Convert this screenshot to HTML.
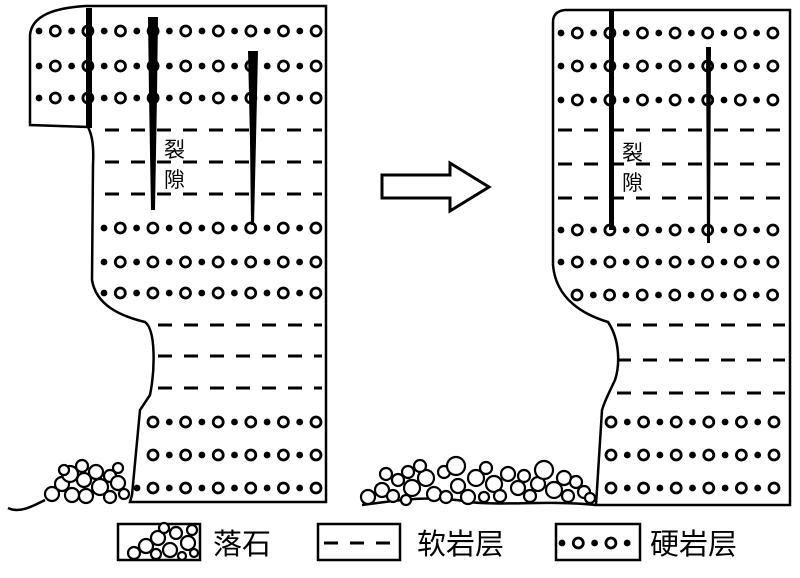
<!DOCTYPE html>
<html><head><meta charset="utf-8"><style>
html,body{margin:0;padding:0;background:#fff;width:800px;height:578px;overflow:hidden}
text{font-family:"Liberation Sans","Noto Sans CJK SC",sans-serif}
</style></head><body>
<svg id="s" width="800" height="578" viewBox="0 0 800 578" xmlns="http://www.w3.org/2000/svg">
<g fill="none" stroke="#000" stroke-width="2.5">
<path d="M326,6 L85,6 C55,8 32,15 30,35 L30,125 L88,127 C92,135 94,145 93,165 L92,280 C96,305 120,316 145,322 C156,330 155,370 150,395 L140,410 L132,495 L130,502 L326,502 Z"/>
<path d="M8,508 C20,514 35,505 45,500"/>
<path d="M790,10 L565,10 C556,11 553,16 553,22 L553,265 C556,300 585,315 608,322 C620,340 620,365 615,380 C608,395 605,400 602,410 L596,505 L790,505 Z"/>
<path d="M362,505 C400,500 430,495 470,502 C500,506 550,500 596,505"/>
<path d="M382,175 L450,175 L450,163 L489,187 L450,211 L450,198 L382,198 Z" stroke-width="3"/>
<rect x="118" y="524" width="82" height="36"/>
<rect x="318" y="524" width="82" height="36"/>
<rect x="556" y="524" width="84" height="36"/>
</g>
<g id="pat"></g>
<g fill="#000" font-size="21">
<text x="164" y="157">裂</text><text x="164" y="187">隙</text>
<text x="622" y="160">裂</text><text x="622" y="190">隙</text>
</g>
<g fill="#000" font-size="29">
<text x="213" y="554">落石</text>
<text x="417" y="554">软岩层</text>
<text x="650" y="554">硬岩层</text>
</g>
<g fill="#000">
<rect x="86" y="8" width="6" height="120"/>
<path d="M148,17 L158,17 L157,95 L155,210 L151,210 L149,95 Z"/>
<path d="M248,51 L258,51 L256,140 L254,225 L251,225 L250,140 Z"/>
<rect x="609" y="10" width="5" height="220"/>
<path d="M706,47 L711,47 L710,243 L707,243 Z"/>
</g>
</svg>
<script>
var g=document.getElementById('pat'),ns='http://www.w3.org/2000/svg';
function el(t,a){var e=document.createElementNS(ns,t);for(var k in a)e.setAttribute(k,a[k]);g.appendChild(e);}
function hard(x0,x1,y,startDot){var i=0;for(var x=x0;x<=x1;x+=16.3,i++){if((i%2==0)==startDot)el('circle',{cx:x,cy:y,r:3.4,fill:'#000'});else el('circle',{cx:x,cy:y,r:5,fill:'#fff',stroke:'#000','stroke-width':2.8});}}
function soft(x0,x1,y){for(var x=x0;x<x1;x+=26)el('line',{x1:x,y1:y,x2:Math.min(x+14,x1),y2:y,stroke:'#000','stroke-width':3});}
[31,66,98].forEach(function(y){hard(39,322,y,true)});
[130,162,194].forEach(function(y){soft(105,322,y)});
[228,262,293].forEach(function(y){hard(104,322,y,true)});
[325,356,388].forEach(function(y){soft(158,322,y)});
[422,455,488].forEach(function(y){hard(153,322,y,false)});
el('circle',{cx:137,cy:488,r:3.4,fill:'#000'});
[33,66,100].forEach(function(y){hard(561,785,y,true)});
[130,164,198].forEach(function(y){soft(558,785,y)});
[230,262].forEach(function(y){hard(561,785,y,true)});
hard(577,785,295,false);
[325,360,393].forEach(function(y){soft(617,785,y)});
[422,455,488].forEach(function(y){hard(611,785,y,false)});
function rub(list){list.forEach(function(c){el('circle',{cx:c[0],cy:c[1],r:c[2],fill:'#fff',stroke:'#000','stroke-width':2.2});});}
rub([[52,494,7],[62,484,7],[70,474,8],[72,495,7],[84,480,7],[86,496,7],[96,472,7],[100,487,8],[110,476,6],[110,497,6],[118,483,7],[124,494,5],[82,466,6],[64,470,5],[118,468,5]]);
rub([[368,497,7],[382,490,7],[393,496,6],[398,480,6],[408,472,6],[412,488,8],[426,478,8],[434,494,7],[444,472,6],[456,466,9],[458,486,7],[468,497,7],[476,478,8],[486,468,6],[494,484,8],[500,496,6],[508,474,7],[518,488,7],[524,476,6],[530,496,6],[538,484,7],[544,470,9],[554,490,8],[564,478,7],[568,496,6],[576,482,6],[584,492,6],[590,498,5],[446,497,6],[484,497,5],[420,466,6],[386,474,6],[406,500,5]]);
rub([[134,553,6],[146,546,7],[158,538,7],[170,550,7],[176,533,6],[188,543,7],[192,530,5],[156,554,5],[182,556,4],[194,553,4],[164,528,5]]);
soft(324,398,543);
hard(562,636,543,true);
</script>
</body></html>
